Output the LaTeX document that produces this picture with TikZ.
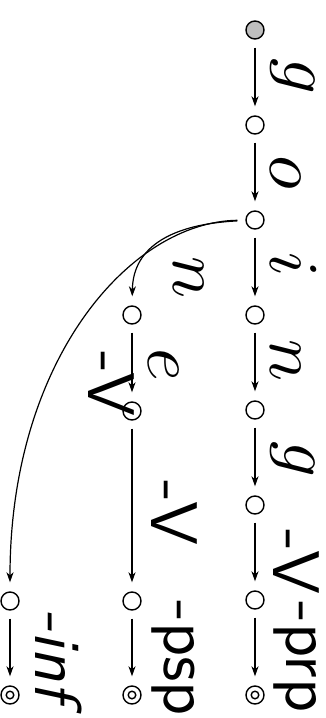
\documentclass[tikz,border=0pt]{standalone}
\usetikzlibrary{arrows.meta}
\tikzset{
  state/.style={circle, draw, line width=1.4pt, minimum size=18pt, inner sep=0pt},
  startstate/.style={state, fill=black!25},
  finalstate/.style={state, path picture={\draw[line width=1.4pt] (path picture bounding box.center) circle[radius=3.8pt];}},
  edge/.style={-{Stealth[length=10pt,width=7pt,inset=3pt]}, line width=1.2pt, shorten <=8pt, shorten >=9pt},
  mlab/.style={rotate=-90, inner sep=0pt, anchor=south, scale=7.0, transform shape},
  slab/.style={rotate=-90, inner sep=0pt, anchor=south, scale=6.6, transform shape, font=\sffamily},
}
\begin{document}
\begin{tikzpicture}[x=1pt,y=-1pt]
\useasboundingbox (0,0) rectangle (326,718);
% right column
\node[startstate] (s0) at (255,30) {};
\node[state] (s1) at (255,125) {};
\node[state] (s2) at (255,220) {};
\node[state] (s3) at (255,315) {};
\node[state] (s4) at (255,410) {};
\node[state] (s5) at (255,505) {};
\node[state] (s6) at (255,600) {};
\node[finalstate] (s7) at (255,695) {};
% second column
\node[state] (a1) at (132,315) {};
\node[state] (a2) at (132,411) {};
\node[state] (a3) at (132,601) {};
\node[finalstate] (a4) at (132,695) {};
% third column
\node[state] (b1) at (10,601) {};
\node[finalstate] (b2) at (10,695) {};
% edges
\draw[edge] (s0) -- (s1);
\draw[edge] (s1) -- (s2);
\draw[edge] (s2) -- (s3);
\draw[edge] (s3) -- (s4);
\draw[edge] (s4) -- (s5);
\draw[edge] (s5) -- (s6);
\draw[edge] (s6) -- (s7);
\draw[edge] (s2) .. controls (175,224) and (133,245) .. (a1);
\draw[edge] (a1) -- (a2);
\draw[edge] (a2) -- (a3);
\draw[edge] (a3) -- (a4);
\draw[edge] (s2) .. controls (130,222) and (10,360) .. (b1);
\draw[edge] (b1) -- (b2);
% labels
\node[mlab] (lg1) at (269,76) {$g$};
\node[mlab] (lo) at (269,172) {$o$};
\node[mlab] (li) at (269,265) {$i$};
\node[mlab] (ln1) at (269,361) {$n$};
\node[mlab] (lg2) at (269,459) {$g$};
\node[slab] (lv1) at (272,562) {-V};
\node[slab] (lprp) at (272,657) {-prp};
\node[mlab] (ln2) at (172,278) {$n$};
\node[mlab] (le) at (147,365) {$e$};
\node[slab, anchor=north] (lv2) at (136,384) {-V};
\node[slab] (lv3) at (150,513) {-V};
\node[slab] (lpsp) at (150,658) {-psp};
\node[slab, font=\sffamily\slshape] (linf) at (34,656) {-inf};
\end{tikzpicture}
\end{document}
